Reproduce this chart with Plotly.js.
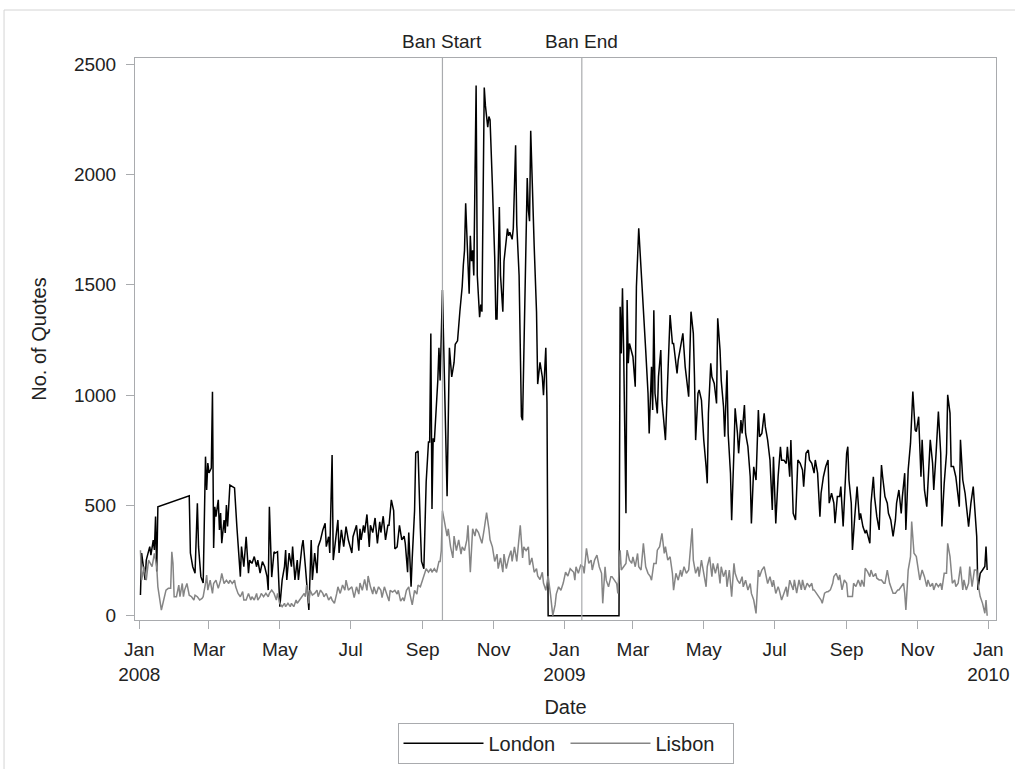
<!DOCTYPE html>
<html><head><meta charset="utf-8">
<script src="https://cdn.plot.ly/plotly-3.0.1.min.js"></script>
<style>html,body{margin:0;padding:0;background:#fff}</style>
</head><body><div id="chart" style="width:1015px;height:769px"></div>
<script>
const londonDates = [
'2008-01-02','2008-01-03','2008-01-06','2008-01-07','2008-01-10','2008-01-11','2008-01-13','2008-01-14','2008-01-15','2008-01-16','2008-01-17',
'2008-02-13','2008-02-14','2008-02-16','2008-02-18','2008-02-20','2008-02-21','2008-02-23','2008-02-25','2008-02-27','2008-02-28','2008-02-29',
'2008-03-01','2008-03-03','2008-03-04','2008-03-05','2008-03-06','2008-03-07','2008-03-09','2008-03-10','2008-03-11','2008-03-12','2008-03-14','2008-03-15','2008-03-16','2008-03-17','2008-03-19','2008-03-23','2008-03-25','2008-03-27','2008-03-28','2008-03-29','2008-03-31',
'2008-04-02','2008-04-04','2008-04-05','2008-04-07','2008-04-09','2008-04-11','2008-04-12','2008-04-14','2008-04-16','2008-04-18','2008-04-20','2008-04-21','2008-04-22','2008-04-24','2008-04-26','2008-04-27','2008-04-29','2008-04-30',
'2008-05-01','2008-05-03','2008-05-05','2008-05-06','2008-05-07','2008-05-09','2008-05-11','2008-05-12','2008-05-14','2008-05-16','2008-05-17','2008-05-20','2008-05-21','2008-05-23','2008-05-25','2008-05-26','2008-05-28','2008-05-29','2008-05-31',
'2008-06-02','2008-06-03','2008-06-05','2008-06-07','2008-06-09','2008-06-10','2008-06-12','2008-06-13','2008-06-15','2008-06-16','2008-06-18','2008-06-20','2008-06-21','2008-06-23','2008-06-25','2008-06-27','2008-06-29',
'2008-07-02','2008-07-03','2008-07-06','2008-07-08','2008-07-09','2008-07-10','2008-07-12','2008-07-13','2008-07-15','2008-07-17','2008-07-18','2008-07-20','2008-07-22','2008-07-24','2008-07-26','2008-07-27','2008-07-29','2008-07-31',
'2008-08-02','2008-08-03','2008-08-05','2008-08-07','2008-08-08','2008-08-10','2008-08-12','2008-08-14','2008-08-16','2008-08-17','2008-08-19','2008-08-20','2008-08-22','2008-08-23','2008-08-25','2008-08-26','2008-08-28','2008-08-30','2008-08-31',
'2008-09-02','2008-09-03','2008-09-04','2008-09-06','2008-09-07','2008-09-08','2008-09-09','2008-09-10','2008-09-11','2008-09-14','2008-09-15','2008-09-16','2008-09-18','2008-09-22','2008-09-24','2008-09-26','2008-09-28','2008-09-29',
'2008-10-01','2008-10-03','2008-10-05','2008-10-06','2008-10-07','2008-10-08','2008-10-10','2008-10-11','2008-10-12','2008-10-13','2008-10-14','2008-10-15','2008-10-17','2008-10-18','2008-10-20','2008-10-21','2008-10-22','2008-10-24','2008-10-25','2008-10-27','2008-10-28','2008-10-29','2008-10-31',
'2008-11-02','2008-11-03','2008-11-04','2008-11-06','2008-11-07','2008-11-09','2008-11-10','2008-11-12','2008-11-13','2008-11-14','2008-11-15','2008-11-17','2008-11-18','2008-11-20','2008-11-21','2008-11-23','2008-11-25','2008-11-26','2008-11-28','2008-11-30',
'2008-12-01','2008-12-02','2008-12-03','2008-12-05','2008-12-06','2008-12-08','2008-12-09','2008-12-11','2008-12-13','2008-12-14','2008-12-16','2008-12-17','2008-12-18',
'2009-02-17','2009-02-18','2009-02-19','2009-02-20','2009-02-21','2009-02-23','2009-02-24','2009-02-25','2009-02-26','2009-02-28',
'2009-03-01','2009-03-03','2009-03-04','2009-03-06','2009-03-07','2009-03-09','2009-03-11','2009-03-12','2009-03-14','2009-03-15','2009-03-17','2009-03-18','2009-03-19','2009-03-20','2009-03-22','2009-03-23','2009-03-25','2009-03-26','2009-03-29','2009-03-31',
'2009-04-02','2009-04-04','2009-04-05','2009-04-08','2009-04-09','2009-04-11','2009-04-13','2009-04-15','2009-04-16','2009-04-18','2009-04-20','2009-04-22','2009-04-23','2009-04-24','2009-04-26','2009-04-27','2009-04-29',
'2009-05-01','2009-05-03','2009-05-04','2009-05-05','2009-05-07','2009-05-08','2009-05-10','2009-05-12','2009-05-13','2009-05-15','2009-05-16','2009-05-18','2009-05-19','2009-05-21','2009-05-22','2009-05-24','2009-05-25','2009-05-27','2009-05-28','2009-05-30','2009-05-31',
'2009-06-02','2009-06-03','2009-06-05','2009-06-06','2009-06-08','2009-06-10','2009-06-11','2009-06-13','2009-06-15','2009-06-17','2009-06-18','2009-06-20','2009-06-22','2009-06-23','2009-06-25','2009-06-27','2009-06-29','2009-06-30',
'2009-07-02','2009-07-04','2009-07-06','2009-07-07','2009-07-09','2009-07-11','2009-07-12','2009-07-14','2009-07-15','2009-07-17','2009-07-19','2009-07-21','2009-07-23','2009-07-25','2009-07-26','2009-07-28','2009-07-30','2009-07-31',
'2009-08-02','2009-08-04','2009-08-05','2009-08-07','2009-08-09','2009-08-10','2009-08-12','2009-08-14','2009-08-16','2009-08-17','2009-08-19','2009-08-21','2009-08-22','2009-08-24','2009-08-26','2009-08-27','2009-08-29','2009-08-30',
'2009-09-01','2009-09-02','2009-09-03','2009-09-05','2009-09-06','2009-09-08','2009-09-10','2009-09-12','2009-09-13','2009-09-15','2009-09-17','2009-09-18','2009-09-21','2009-09-22','2009-09-24','2009-09-25','2009-09-27','2009-09-29',
'2009-10-01','2009-10-02','2009-10-04','2009-10-06','2009-10-07','2009-10-09','2009-10-11','2009-10-13','2009-10-14','2009-10-16','2009-10-18','2009-10-19','2009-10-21','2009-10-22','2009-10-24','2009-10-26','2009-10-28','2009-10-30','2009-10-31',
'2009-11-02','2009-11-04','2009-11-05','2009-11-07','2009-11-09','2009-11-11','2009-11-12','2009-11-14','2009-11-15','2009-11-17','2009-11-19','2009-11-21','2009-11-22','2009-11-24','2009-11-26','2009-11-27','2009-11-29','2009-11-30',
'2009-12-02','2009-12-04','2009-12-05','2009-12-07','2009-12-08','2009-12-10','2009-12-12','2009-12-14','2009-12-15','2009-12-17','2009-12-19','2009-12-20','2009-12-22','2009-12-23','2009-12-25','2009-12-27','2009-12-29','2009-12-30','2009-12-31'
];
const londonQuotes = [
94,284,162,252,313,275,343,298,449,200,494,
544,284,222,193,510,313,177,148,721,570,692,
647,669,1015,307,494,449,525,389,465,329,434,375,502,404,592,579,404,268,177,313,222,
358,193,252,237,268,222,252,193,245,222,177,116,494,175,290,284,290,116,
41,162,222,298,162,284,222,313,162,252,162,313,343,222,101,26,343,162,284,
193,313,343,389,419,313,358,284,728,252,358,434,284,389,313,404,343,
284,358,410,295,394,344,410,377,459,312,410,377,443,328,426,377,451,344,
410,410,525,476,303,312,410,344,361,328,197,377,131,262,476,738,746,394,246,
213,410,607,787,787,1279,484,804,787,1066,1214,1066,1476,541,1214,1082,1148,1230,
1246,1378,1492,1591,1656,1870,1607,1460,1722,1607,1656,1542,2403,1542,1353,1410,1378,2394,2312,2214,2263,2247,1952,
1624,1345,1345,1853,1542,1378,1607,1706,1755,1722,1738,1706,1755,2132,1771,1542,902,886,1378,1984,
1837,1788,2198,1755,1673,1378,1050,1148,1082,1000,1214,968,0,
0,1400,1189,1484,1204,464,1431,1144,1234,1189,
1174,1038,1491,1756,1672,1461,1325,1204,1008,826,1128,932,1385,1008,917,1083,1204,977,796,1098,
1363,1234,1234,1098,1159,1219,1280,1128,1083,993,1378,1280,1083,796,1008,1023,977,
796,675,600,917,1144,1083,1053,962,1348,1204,1068,947,811,1113,826,645,433,751,940,826,736,
887,826,955,826,766,630,418,675,615,932,811,826,917,857,796,705,479,720,
418,630,766,705,705,690,766,630,796,464,434,706,691,661,585,736,751,706,
691,646,706,646,449,555,630,676,706,510,555,510,419,540,540,585,404,510,
736,766,615,510,298,449,585,434,464,404,374,389,328,510,630,540,449,389,
683,630,540,510,464,434,359,434,510,570,464,540,646,389,661,782,1016,842,834,
902,630,797,570,494,661,797,691,570,736,925,736,404,600,736,1001,918,676,
676,630,585,494,797,615,555,464,404,510,585,510,359,117,192,207,223,313,207
];
const lisbonDates = [
'2008-01-02','2008-01-03','2008-01-05','2008-01-07','2008-01-09','2008-01-12','2008-01-14','2008-01-16','2008-01-17','2008-01-19','2008-01-20','2008-01-22','2008-01-24','2008-01-26','2008-01-28','2008-01-29','2008-01-30','2008-01-31',
'2008-02-02','2008-02-04','2008-02-05','2008-02-07','2008-02-08','2008-02-09','2008-02-11','2008-02-13','2008-02-15','2008-02-17','2008-02-18','2008-02-20','2008-02-22','2008-02-24','2008-02-25','2008-02-27','2008-02-28','2008-02-29',
'2008-03-02','2008-03-04','2008-03-05','2008-03-07','2008-03-09','2008-03-11','2008-03-12','2008-03-14','2008-03-16','2008-03-18','2008-03-19','2008-03-21','2008-03-23','2008-03-24','2008-03-26','2008-03-28','2008-03-30','2008-03-31',
'2008-04-02','2008-04-04','2008-04-06','2008-04-07','2008-04-09','2008-04-11','2008-04-12','2008-04-14','2008-04-15','2008-04-17','2008-04-19','2008-04-21','2008-04-22','2008-04-24','2008-04-26','2008-04-28','2008-04-29',
'2008-05-01','2008-05-03','2008-05-05','2008-05-06','2008-05-08','2008-05-10','2008-05-11','2008-05-13','2008-05-15','2008-05-16','2008-05-18','2008-05-20','2008-05-22','2008-05-23','2008-05-24','2008-05-26','2008-05-27','2008-05-29','2008-05-31',
'2008-06-02','2008-06-03','2008-06-05','2008-06-07','2008-06-08','2008-06-10','2008-06-12','2008-06-14','2008-06-15','2008-06-17','2008-06-19','2008-06-20','2008-06-22','2008-06-24','2008-06-26','2008-06-27','2008-06-29',
'2008-07-02','2008-07-04','2008-07-06','2008-07-08','2008-07-09','2008-07-11','2008-07-13','2008-07-15','2008-07-16','2008-07-18','2008-07-20','2008-07-21','2008-07-23','2008-07-25','2008-07-27','2008-07-28','2008-07-30',
'2008-08-01','2008-08-03','2008-08-04','2008-08-06','2008-08-08','2008-08-10','2008-08-11','2008-08-13','2008-08-15','2008-08-16','2008-08-18','2008-08-20','2008-08-21','2008-08-23','2008-08-25','2008-08-27','2008-08-28','2008-08-30',
'2008-09-01','2008-09-03','2008-09-04','2008-09-06','2008-09-08','2008-09-09','2008-09-11','2008-09-13','2008-09-15','2008-09-16','2008-09-17','2008-09-18','2008-09-20','2008-09-22','2008-09-23','2008-09-25','2008-09-27','2008-09-28','2008-09-30',
'2008-10-02','2008-10-04','2008-10-05','2008-10-07','2008-10-09','2008-10-10','2008-10-12','2008-10-14','2008-10-16','2008-10-17','2008-10-19','2008-10-21','2008-10-22','2008-10-24','2008-10-26','2008-10-28','2008-10-29','2008-10-31',
'2008-11-02','2008-11-04','2008-11-05','2008-11-07','2008-11-09','2008-11-10','2008-11-12','2008-11-14','2008-11-16','2008-11-17','2008-11-19','2008-11-21','2008-11-22','2008-11-24','2008-11-26','2008-11-27','2008-11-29',
'2008-12-01','2008-12-02','2008-12-04','2008-12-06','2008-12-08','2008-12-09','2008-12-11','2008-12-13','2008-12-14','2008-12-16','2008-12-18','2008-12-20','2008-12-22','2008-12-24','2008-12-25','2008-12-27','2008-12-29','2008-12-31',
'2009-01-02','2009-01-04','2009-01-06','2009-01-09','2009-01-10','2009-01-11','2009-01-13','2009-01-15','2009-01-17','2009-01-18','2009-01-20','2009-01-22','2009-01-24','2009-01-25','2009-01-27','2009-01-29','2009-01-31',
'2009-02-02','2009-02-03','2009-02-05','2009-02-06','2009-02-08','2009-02-10','2009-02-11','2009-02-13','2009-02-15','2009-02-16','2009-02-18','2009-02-19','2009-02-21','2009-02-23','2009-02-24','2009-02-26','2009-02-28',
'2009-03-01','2009-03-03','2009-03-05','2009-03-06','2009-03-08','2009-03-10','2009-03-12','2009-03-14','2009-03-16','2009-03-17','2009-03-19','2009-03-21','2009-03-22','2009-03-24','2009-03-26','2009-03-28','2009-03-29','2009-03-31',
'2009-04-02','2009-04-04','2009-04-05','2009-04-07','2009-04-09','2009-04-11','2009-04-12','2009-04-14','2009-04-16','2009-04-18','2009-04-19','2009-04-21','2009-04-22','2009-04-24','2009-04-26','2009-04-27','2009-04-29',
'2009-05-01','2009-05-03','2009-05-04','2009-05-06','2009-05-08','2009-05-09','2009-05-11','2009-05-13','2009-05-15','2009-05-16','2009-05-18','2009-05-20','2009-05-21','2009-05-23','2009-05-25','2009-05-27','2009-05-28','2009-05-30',
'2009-06-01','2009-06-03','2009-06-04','2009-06-06','2009-06-08','2009-06-10','2009-06-11','2009-06-13','2009-06-15','2009-06-17','2009-06-18','2009-06-20','2009-06-22','2009-06-24','2009-06-25','2009-06-27','2009-06-29','2009-06-30',
'2009-07-02','2009-07-04','2009-07-05','2009-07-07','2009-07-09','2009-07-11','2009-07-12','2009-07-14','2009-07-16','2009-07-17','2009-07-18','2009-07-20','2009-07-22','2009-07-24','2009-07-25','2009-07-27','2009-07-29','2009-07-31',
'2009-08-02','2009-08-03','2009-08-04','2009-08-06','2009-08-08','2009-08-10','2009-08-11','2009-08-13','2009-08-15','2009-08-16','2009-08-18','2009-08-20','2009-08-21','2009-08-23','2009-08-25','2009-08-26','2009-08-28','2009-08-30',
'2009-09-01','2009-09-02','2009-09-04','2009-09-06','2009-09-07','2009-09-09','2009-09-11','2009-09-13','2009-09-14','2009-09-16','2009-09-17','2009-09-19','2009-09-21','2009-09-22','2009-09-24','2009-09-26','2009-09-27','2009-09-29',
'2009-10-01','2009-10-03','2009-10-04','2009-10-06','2009-10-08','2009-10-10','2009-10-11','2009-10-13','2009-10-15','2009-10-16','2009-10-18','2009-10-20','2009-10-21','2009-10-22','2009-10-24','2009-10-26','2009-10-27','2009-10-29','2009-10-31',
'2009-11-02','2009-11-03','2009-11-05','2009-11-07','2009-11-09','2009-11-10','2009-11-12','2009-11-14','2009-11-15','2009-11-17','2009-11-19','2009-11-21','2009-11-22','2009-11-24','2009-11-26','2009-11-27','2009-11-29',
'2009-12-01','2009-12-03','2009-12-04','2009-12-06','2009-12-08','2009-12-10','2009-12-11','2009-12-13','2009-12-15','2009-12-16','2009-12-18','2009-12-20','2009-12-22','2009-12-23','2009-12-25','2009-12-27','2009-12-29','2009-12-30','2009-12-31'
];
const lisbonQuotes = [
297,161,222,161,252,222,282,222,131,71,25,71,116,124,124,290,237,86,
86,139,86,146,86,116,146,93,86,71,93,86,71,78,86,146,184,116,
161,101,146,161,124,161,192,146,161,146,161,146,161,131,101,86,109,71,
71,101,71,86,71,101,71,86,101,86,101,86,101,116,101,71,101,
56,41,56,41,56,41,56,41,71,56,71,86,101,86,139,56,116,93,101,
116,86,116,101,86,101,71,86,71,56,101,131,101,139,116,161,116,
131,82,131,98,148,115,164,115,180,131,98,131,98,131,115,82,131,
98,66,115,107,115,98,115,66,82,66,115,131,98,49,115,98,139,131,
164,197,213,197,213,197,213,197,246,246,295,476,410,361,394,312,262,361,295,
344,279,312,295,344,410,197,394,361,394,377,344,328,394,467,394,344,312,
246,279,213,262,197,279,213,262,295,246,312,246,295,410,262,312,295,
312,230,262,197,213,180,164,197,148,115,180,98,0,49,98,131,115,148,
197,180,213,197,161,222,192,229,222,192,305,237,252,207,252,275,222,
192,56,222,161,131,177,177,161,146,101,297,207,222,237,297,252,237,
267,222,282,222,207,328,222,192,177,161,237,237,297,313,373,282,313,252,
267,192,116,192,161,207,177,222,192,207,267,396,252,192,222,177,252,
192,131,222,267,177,237,192,237,146,222,177,207,131,207,86,237,192,161,
146,177,131,161,116,146,101,71,10,207,177,207,222,177,146,177,131,161,
101,131,116,71,101,131,86,161,131,117,162,102,162,117,162,117,147,132,
147,117,117,102,87,71,56,102,109,109,117,147,177,192,162,185,117,162,
147,87,87,87,147,132,162,132,162,132,215,200,177,207,177,192,170,162,
162,147,147,207,147,117,102,102,117,117,132,147,102,26,207,268,427,283,268,
192,162,207,177,132,162,132,147,117,147,132,147,117,192,192,328,268,
147,162,132,147,223,117,162,117,147,223,132,207,207,147,87,56,11,71,0
];
const banDates = ['2008-09-18', '2009-01-16'];
const banLabels = ['Ban Start', 'Ban End'];
const tickDates = ['2008-01-01','2008-03-01','2008-05-01','2008-07-01','2008-09-01','2008-11-01','2009-01-01','2009-03-01','2009-05-01','2009-07-01','2009-09-01','2009-11-01','2010-01-01'];
const tickLabels = ['Jan<br>2008','Mar','May','Jul','Sep','Nov','Jan<br>2009','Mar','May','Jul','Sep','Nov','Jan<br>2010'];
const yTicks = [0, 500, 1000, 1500, 2000, 2500];

const FONT = 'Liberation Sans, Arial, sans-serif';
const frameColor = '#a9abae';

const traces = [
  {x: londonDates, y: londonQuotes, type: 'scatter', mode: 'lines', name: 'London',
   line: {color: '#000000', width: 1.5}},
  {x: lisbonDates, y: lisbonQuotes, type: 'scatter', mode: 'lines', name: 'Lisbon',
   line: {color: '#858585', width: 1.5}}
];

const shapes = banDates.map(d => ({type: 'line', xref: 'x', yref: 'paper', x0: d, x1: d, y0: 0, y1: 1,
  line: {color: frameColor, width: 1.2}}));
shapes.push({type: 'rect', xref: 'paper', yref: 'paper', x0: -0.1521, x1: 1.06, y0: -0.32, y1: 1.0854,
  line: {color: '#d4d4d4', width: 1}, fillcolor: 'rgba(0,0,0,0)'});

const annotations = banDates.map((d, i) => ({x: d, xref: 'x', y: 1, yref: 'paper', yanchor: 'bottom',
  text: banLabels[i], showarrow: false, yshift: 4, font: {family: FONT, size: 19, color: '#222'}}));

const layout = {
  width: 1015, height: 769,
  margin: {l: 135, r: 19, t: 58, b: 149, autoexpand: false},
  paper_bgcolor: '#ffffff', plot_bgcolor: '#ffffff',
  font: {family: FONT, size: 19, color: '#222'},
  showlegend: true,
  legend: {orientation: 'h', x: 0.5, xanchor: 'center', y: -0.183, yanchor: 'top',
    bordercolor: frameColor, borderwidth: 1, font: {family: FONT, size: 20, color: '#222'},
    itemwidth: 80, entrywidth: 72, tracegroupgap: 0},
  xaxis: {type: 'date', range: ['2007-12-28 07:12', '2010-01-07 14:24'],
    tickmode: 'array', tickvals: tickDates, ticktext: tickLabels,
    ticks: 'outside', ticklen: 8, tickcolor: frameColor, tickwidth: 1,
    showline: true, linecolor: frameColor, linewidth: 1, mirror: true,
    showgrid: false, zeroline: false, ticklabelstandoff: 4,
    tickfont: {family: FONT, size: 19, color: '#222'},
    title: {text: 'Date', font: {family: FONT, size: 20, color: '#222'}, standoff: 16}},
  yaxis: {range: [-19.5, 2528], tickmode: 'array', tickvals: yTicks,
    ticks: 'outside', ticklen: 8, tickcolor: frameColor, tickwidth: 1,
    showline: true, linecolor: frameColor, linewidth: 1, mirror: true,
    showgrid: false, zeroline: false, ticklabelstandoff: 6,
    tickfont: {family: FONT, size: 19, color: '#222'},
    title: {text: 'No. of Quotes', font: {family: FONT, size: 20, color: '#222'}, standoff: 21}},
  shapes: shapes,
  annotations: annotations
};

Plotly.newPlot('chart', traces, layout, {displayModeBar: false, staticPlot: true});
</script>
</body></html>
